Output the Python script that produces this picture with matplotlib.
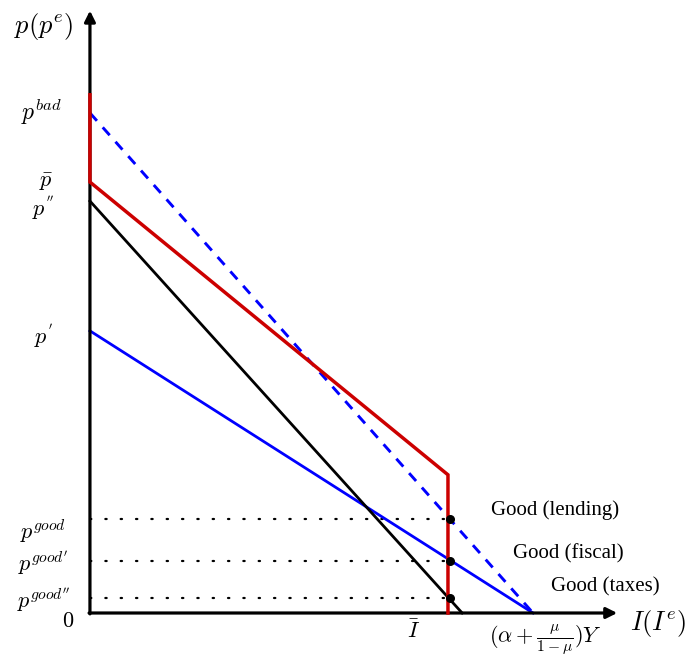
import matplotlib
matplotlib.use("Agg")
import matplotlib.pyplot as plt

plt.rcParams["mathtext.fontset"] = "cm"
plt.rcParams["font.family"] = ["Liberation Serif", "DejaVu Serif"]

# diagram values (arbitrary units, origin at 0)
i_bar = 8.08          # \bar{I}
i_black = 8.40        # where the black line meets the x axis
i_max = 10.0          # (alpha + mu/(1-mu)) Y
p_bad = 11.7
p_dash = 11.29        # start of dashed blue line
p_bar = 9.73
p_2 = 9.30            # p''
p_1 = 6.37            # p'
p_kink = 3.12         # red line at \bar{I}
p_good = [2.12, 1.17, 0.34]
good_names = ["Good (lending)", "Good (fiscal)", "Good (taxes)"]

x_top = 11.9
y_top = 13.6

fig = plt.figure(figsize=(6.93, 6.65), dpi=100)
ax = fig.add_axes([0, 0, 1, 1])
ax.set_xlim(-2.03, 13.61)
ax.set_ylim(-1.174, 13.84)
ax.axis("off")

# axes with arrows
arrow = dict(arrowstyle="-|>", lw=2.3, color="black", mutation_scale=16,
             shrinkA=0, shrinkB=0)
ax.annotate("", xy=(0, y_top), xytext=(0, -0.02), arrowprops=arrow)
ax.annotate("", xy=(x_top, 0), xytext=(-0.02, 0), arrowprops=arrow)

# dotted guide lines
for pg in p_good:
    ax.plot([0, i_bar], [pg, pg], color="black", lw=1.6,
            linestyle=(0, (0.6, 6.3)), dash_capstyle="round", zorder=1)

# curves
ax.plot([0, i_max], [p_dash, 0], color="#0000ff", lw=2.1,
        linestyle=(0, (3.6, 3.0)), zorder=2)
ax.plot([0, i_max], [p_1, 0], color="#0000ff", lw=2.0, zorder=2)
ax.plot([0, i_black], [p_2, 0], color="black", lw=2.0, zorder=2)
ax.plot([0, 0, i_bar, i_bar], [p_bad, p_bar, p_kink, 0],
        color="#cc0000", lw=2.5, zorder=3, solid_joinstyle="miter")

# equilibrium dots
ax.scatter([i_bar + 0.04] * 3, p_good, s=30, color="black", zorder=4)

# y labels
fs = 16
ax.text(-1.05, 13.25, r"$p(p^e)$", fontsize=19, ha="center", va="center")
ax.text(-1.10, 11.30, r"$p^{bad}$", fontsize=17, ha="center", va="center")
ax.text(-1.00, 9.72, r"$\bar{p}$", fontsize=fs, ha="center", va="center")
ax.text(-1.05, 9.15, r"$p^{''}$", fontsize=fs, ha="center", va="center")
ax.text(-1.05, 6.27, r"$p^{'}$", fontsize=fs, ha="center", va="center")
ax.text(-1.05, 1.84, r"$p^{good}$", fontsize=fs, ha="center", va="center")
ax.text(-1.05, 1.13, r"$p^{good'}$", fontsize=fs, ha="center", va="center")
ax.text(-1.05, 0.30, r"$p^{good''}$", fontsize=fs, ha="center", va="center")
ax.text(-0.50, -0.22, r"$0$", fontsize=fs, ha="center", va="center")

# x labels
ax.text(7.3, -0.42, r"$\bar{I}$", fontsize=fs, ha="center", va="center")
ax.text(10.27, -0.60, r"$(\alpha + \frac{\mu}{1-\mu})Y$", fontsize=fs,
        ha="center", va="center")
ax.text(12.82, -0.23, r"$I(I^e)$", fontsize=19, ha="center", va="center")

# branch labels
ax.text(10.5, 2.33, good_names[0], fontsize=15, ha="center", va="center")
ax.text(10.8, 1.34, good_names[1], fontsize=15, ha="center", va="center")
ax.text(11.63, 0.59, good_names[2], fontsize=15, ha="center", va="center")

fig.savefig("out.png", dpi=100)
